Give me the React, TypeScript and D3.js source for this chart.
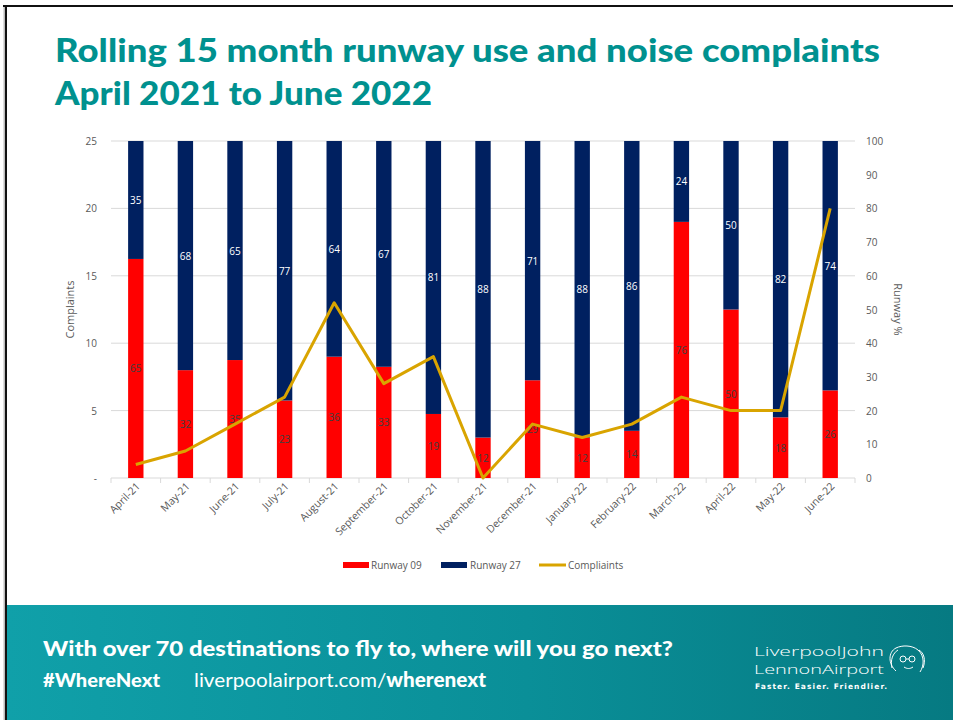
import React from "react";
import * as d3 from "d3";

const months = [
  "April-21", "May-21", "June-21", "July-21", "August-21", "September-21", "October-21",
  "November-21", "December-21", "January-22", "February-22", "March-22", "April-22", "May-22", "June-22",
];
const runway09 = [65, 32, 35, 23, 36, 33, 19, 12, 29, 12, 14, 76, 50, 18, 26];
const runway27 = [35, 68, 65, 77, 64, 67, 81, 88, 71, 88, 86, 24, 50, 82, 74];
const complaints = [1, 2, 4, 6, 13, 7, 9, 0, 4, 3, 4, 6, 5, 5, 20];
const leftTicks = [0, 5, 10, 15, 20, 25];
const rightTicks = [0, 10, 20, 30, 40, 50, 60, 70, 80, 90, 100];

const RED = "#FF0000";
const NAVY = "#002060";
const GOLD = "#D9A400";
const GRID = "#D9D9D9";
const TXT = "#595959";
const FONT = "'Open Sans', 'Noto Sans', sans-serif";

export default function App() {
  const W = 953, H = 720;
  const x0 = 111, x1 = 855, yTop = 141, yBot = 478;
  const x = d3.scaleBand<string>().domain(months).range([x0, x1]).paddingInner(0.69).paddingOuter(0.345);
  const xc = d3.scaleBand<string>().domain(months).range([x0, x1]);
  const yL = d3.scaleLinear().domain([0, 25]).range([yBot, yTop]);
  const yR = d3.scaleLinear().domain([0, 100]).range([yBot, yTop]);
  const line = d3.line<number>()
    .x((_, i) => (xc(months[i]) as number) + xc.bandwidth() / 2)
    .y((d) => yL(d));

  return (
    <svg width={W} height={H} style={{ position: "absolute", left: 0, top: 0 }}>
      <defs>
        <linearGradient id="band" x1="0" x2="1" y1="0" y2="0">
          <stop offset="0" stopColor="#10A0A9" />
          <stop offset="0.55" stopColor="#0A8F98" />
          <stop offset="1" stopColor="#067A82" />
        </linearGradient>
      </defs>
      <rect x={0} y={0} width={W} height={H} fill="#fff" />
      {/* frame */}
      <rect x={3} y={5} width={W - 3} height={2} fill="#111" />
      <rect x={5} y={5} width={2} height={H - 5} fill="#111" />
      <rect x={3.5} y={7} width={1.5} height={H - 7} fill="#bbb" />

      {/* title */}
      <text x={55} y={62} fill="#00918F" fontFamily="Lato, 'Open Sans', sans-serif" fontWeight={900}
        fontSize={33} textLength={825} lengthAdjust="spacingAndGlyphs">
        Rolling 15 month runway use and noise complaints
      </text>
      <text x={55} y={105} fill="#00918F" fontFamily="Lato, 'Open Sans', sans-serif" fontWeight={900}
        fontSize={33} textLength={377} lengthAdjust="spacingAndGlyphs">
        April 2021 to June 2022
      </text>

      {/* gridlines */}
      {leftTicks.map((t) => (
        <line key={"g" + t} x1={x0} x2={x1} y1={yL(t)} y2={yL(t)} stroke={GRID} strokeWidth={1} />
      ))}
      {/* category ticks */}
      {months.map((m, i) => (
        <line key={"t" + i} x1={xc(m) as number} x2={xc(m) as number} y1={yBot} y2={yBot + 5} stroke={GRID} />
      ))}
      <line x1={x1} x2={x1} y1={yBot} y2={yBot + 5} stroke={GRID} />

      {/* bars */}
      {months.map((m, i) => {
        const bx = x(m) as number;
        const bw = x.bandwidth();
        const r = runway09[i];
        const n = runway27[i];
        return (
          <g key={"b" + i}>
            <rect x={bx} y={yR(r)} width={bw} height={yR(0) - yR(r)} fill={RED} />
            <rect x={bx} y={yR(r + n)} width={bw} height={yR(r) - yR(r + n)} fill={NAVY} />
            <text x={bx + bw / 2} y={(yR(r + n) + yR(r)) / 2 + 4} textAnchor="middle" fill="#fff"
              fontFamily={FONT} fontSize={10}>{n}</text>
            <text x={bx + bw / 2} y={(yR(r) + yR(0)) / 2 + 4} textAnchor="middle" fill="#404040"
              fontFamily={FONT} fontSize={10}>{r}</text>
          </g>
        );
      })}

      {/* complaints line */}
      <path d={line(complaints) || ""} fill="none" stroke={GOLD} strokeWidth={3} strokeLinejoin="round" />

      {/* left axis */}
      {leftTicks.map((t) => (
        <text key={"l" + t} x={97} y={yL(t) + 4} textAnchor="end" fill={TXT} fontFamily={FONT} fontSize={10}>
          {t === 0 ? "-" : t}
        </text>
      ))}
      {/* right axis */}
      {rightTicks.map((t) => (
        <text key={"r" + t} x={866} y={yR(t) + 4} textAnchor="start" fill={TXT} fontFamily={FONT} fontSize={10}>
          {t}
        </text>
      ))}
      <text transform={`translate(74,${(yTop + yBot) / 2}) rotate(-90)`} textAnchor="middle" fill={TXT}
        fontFamily={FONT} fontSize={11}>Complaints</text>
      <text transform={`translate(894,${(yTop + yBot) / 2}) rotate(90)`} textAnchor="middle" fill={TXT}
        fontFamily={FONT} fontSize={11}>Runway %</text>

      {/* x labels */}
      {months.map((m, i) => {
        const cx = (xc(m) as number) + xc.bandwidth() / 2;
        return (
          <text key={"x" + i} transform={`translate(${cx + 5},${yBot + 9}) rotate(-45)`} textAnchor="end"
            fill={TXT} fontFamily={FONT} fontSize={10.5}>{m}</text>
        );
      })}

      {/* legend */}
      <rect x={343} y={562} width={26} height={6} fill={RED} />
      <text x={371} y={569} fill={TXT} fontFamily={FONT} fontSize={10}>Runway 09</text>
      <rect x={441} y={562} width={26} height={6} fill={NAVY} />
      <text x={470} y={569} fill={TXT} fontFamily={FONT} fontSize={10}>Runway 27</text>
      <line x1={539} x2={566} y1={565} y2={565} stroke={GOLD} strokeWidth={3} />
      <text x={568} y={569} fill={TXT} fontFamily={FONT} fontSize={10}>Compliaints</text>

      {/* footer banner */}
      <rect x={7} y={605} width={W - 7} height={H - 605} fill="url(#band)" />
      <text x={43} y={656} fill="#fff" fontFamily="Lato, 'Open Sans', sans-serif" fontWeight={900} fontSize={21}
        textLength={630} lengthAdjust="spacingAndGlyphs">
        With over 70 destinations to fly to, where will you go next?
      </text>
      <text x={43} y={687} fill="#fff" fontFamily="Lato, 'Open Sans', sans-serif" fontWeight={900} fontSize={19}
        textLength={117} lengthAdjust="spacingAndGlyphs">#WhereNext</text>
      <text x={194} y={687} fill="#fff" fontFamily="Lato, 'Open Sans', sans-serif" fontSize={20}
        textLength={292} lengthAdjust="spacingAndGlyphs">
        liverpoolairport.com/<tspan fontWeight={900}>wherenext</tspan>
      </text>

      {/* logo */}
      <text x={754} y={656} fill="#fff" fontFamily="'Open Sans', sans-serif" fontWeight={300} fontSize={13}
        textLength={130} lengthAdjust="spacingAndGlyphs">LiverpoolJohn</text>
      <text x={754} y={674} fill="#fff" fontFamily="'Open Sans', sans-serif" fontWeight={300} fontSize={13}
        textLength={130} lengthAdjust="spacingAndGlyphs">LennonAirport</text>
      <text x={755} y={689} fill="#fff" fontFamily="'DejaVu Sans', sans-serif" fontWeight={700} fontSize={7.5}
        textLength={132} lengthAdjust="spacing">Faster. Easier. Friendlier.</text>
      <g fill="none" stroke="#fff" strokeWidth={1}>
        <path d="M896,671 C888,664 888,652 896,648 C902,645 912,645 918,650 C925,656 924,666 920,672" />
        <path d="M892,668 C890,660 893,653 898,650" />
        <path d="M923,668 C926,660 924,653 919,650" />
        <circle cx={903} cy={659} r={3} />
        <circle cx={912} cy={659} r={3} />
        <path d="M906,659 L909,659" />
        <path d="M904,667 C907,669 910,669 913,667" />
      </g>
    </svg>
  );
}
